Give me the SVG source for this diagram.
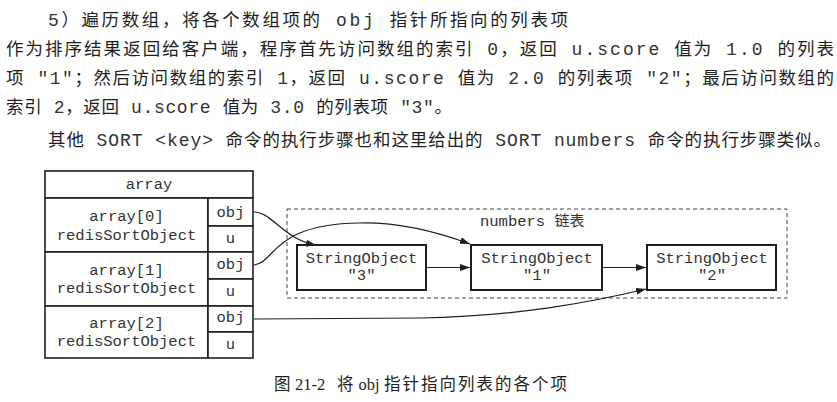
<svg xmlns="http://www.w3.org/2000/svg" width="837" height="402" viewBox="0 0 837 402">
<defs>
<style>
.body{font-family:"Noto Sans CJK SC",sans-serif;font-size:17.5px;fill:#1e1e1e}
.bm{font-family:"Liberation Mono","DejaVu Sans Mono",monospace;font-size:18px;fill:#333}
.cap{font-family:"Liberation Serif","Noto Sans CJK SC",serif;font-size:16.5px;fill:#1e1e1e}
.capc{font-family:"Noto Sans CJK SC",sans-serif;font-size:16.5px;fill:#1e1e1e}
.box{fill:#fff;stroke:#1e1e1e;stroke-width:1.6}
.sobox{fill:#fff;stroke:#1e1e1e;stroke-width:2}
.dash{fill:none;stroke:#444;stroke-width:1;stroke-dasharray:4 3}
.mono{font-family:"Liberation Mono","DejaVu Sans Mono",monospace;font-size:15.5px;fill:#333;text-anchor:middle}
.lbl{font-family:"Liberation Mono","DejaVu Sans Mono",monospace;font-size:15.5px;fill:#333}
.lblc{font-family:"Noto Sans CJK SC",sans-serif;font-size:15px}
.edge{fill:none;stroke:#1e1e1e;stroke-width:1.2}
</style>
<marker id="arr" markerUnits="userSpaceOnUse" markerWidth="11" markerHeight="8" refX="10" refY="3.5" orient="auto">
<path d="M0,0 L10,3.5 L0,7 z" fill="#1e1e1e"/>
</marker>
</defs>
<rect width="837" height="402" fill="#fff"/>

<g id="paragraph">
<text class="body" x="48" y="26" textLength="520" lengthAdjust="spacing"><tspan class="bm">5</tspan>）遍历数组，将各个数组项的<tspan class="bm"> obj </tspan>指针所指向的列表项</text>
<text class="body" x="6" y="55" textLength="828" lengthAdjust="spacing">作为排序结果返回给客户端，程序首先访问数组的索引<tspan class="bm"> 0</tspan>，返回<tspan class="bm"> u.score </tspan>值为<tspan class="bm"> 1.0 </tspan>的列表</text>
<text class="body" x="6" y="84" textLength="828" lengthAdjust="spacing">项<tspan class="bm"> "1"</tspan>；然后访问数组的索引<tspan class="bm"> 1</tspan>，返回<tspan class="bm"> u.score </tspan>值为<tspan class="bm"> 2.0 </tspan>的列表项<tspan class="bm"> "2"</tspan>；最后访问数组的</text>
<text class="body" x="6" y="113" textLength="446" lengthAdjust="spacing">索引<tspan class="bm"> 2</tspan>，返回<tspan class="bm"> u.score </tspan>值为<tspan class="bm"> 3.0 </tspan>的列表项<tspan class="bm"> "3"</tspan>。</text>
<text class="body" x="48" y="146" textLength="783" lengthAdjust="spacing">其他<tspan class="bm"> SORT &lt;key&gt; </tspan>命令的执行步骤也和这里给出的<tspan class="bm"> SORT numbers </tspan>命令的执行步骤类似。</text>
</g>

<g id="array-header">
<rect class="box" x="45" y="171" width="208" height="27"/>
<text class="mono" x="149" y="189">array</text>
</g>
<g id="array0">
<rect class="box" x="45" y="198" width="163" height="54"/>
<rect class="box" x="208" y="198" width="45" height="28"/>
<rect class="box" x="208" y="226" width="45" height="26"/>
<text class="mono" x="126.5" y="221">array[0]</text>
<text class="mono" x="126.5" y="240">redisSortObject</text>
<text class="mono" x="230.5" y="217">obj</text>
<text class="mono" x="230.5" y="243">u</text>
</g>
<g id="array1">
<rect class="box" x="45" y="252" width="163" height="54"/>
<rect class="box" x="208" y="252" width="45" height="27"/>
<rect class="box" x="208" y="279" width="45" height="27"/>
<text class="mono" x="126.5" y="275">array[1]</text>
<text class="mono" x="126.5" y="293">redisSortObject</text>
<text class="mono" x="230.5" y="269">obj</text>
<text class="mono" x="230.5" y="296">u</text>
</g>
<g id="array2">
<rect class="box" x="45" y="306" width="163" height="52"/>
<rect class="box" x="208" y="306" width="45" height="26"/>
<rect class="box" x="208" y="332" width="45" height="26"/>
<text class="mono" x="126.5" y="328">array[2]</text>
<text class="mono" x="126.5" y="346">redisSortObject</text>
<text class="mono" x="230.5" y="322">obj</text>
<text class="mono" x="230.5" y="349">u</text>
</g>

<g id="numbers-list">
<rect class="dash" x="287" y="209" width="500" height="89"/>
<text class="lbl" x="480" y="226">numbers <tspan class="lblc">链表</tspan></text>
</g>
<g id="so3">
<rect class="sobox" x="297" y="245" width="129" height="45"/>
<text class="mono" x="361.5" y="262.5">StringObject</text>
<text class="mono" x="361.5" y="280">"3"</text>
</g>
<g id="so1">
<rect class="sobox" x="471" y="245" width="131" height="45"/>
<text class="mono" x="537" y="262.5">StringObject</text>
<text class="mono" x="537" y="280">"1"</text>
</g>
<g id="so2">
<rect class="sobox" x="647" y="245" width="129" height="45"/>
<text class="mono" x="712" y="262.5">StringObject</text>
<text class="mono" x="712" y="280">"2"</text>
</g>

<g id="connectors">
<path class="edge" marker-end="url(#arr)" d="M426,267.5 L470,267.5"/>
<path class="edge" marker-end="url(#arr)" d="M602,267.5 L646,267.5"/>
<path class="edge" marker-end="url(#arr)" d="M254,212 C272,212 283,239 316,245"/>
<path class="edge" marker-end="url(#arr)" d="M254,265 C276,262 272,224 360,223 C402,222 440,233 470,244"/>
<path class="edge" marker-end="url(#arr)" d="M254,319 L420,318 C520,316 592,302 646,289"/>
</g>

<g id="caption">
<text class="capc" x="274" y="390">图</text>
<text class="cap" x="295" y="390">21-2</text>
<text class="capc" x="337" y="390">将</text>
<text class="cap" x="358.5" y="390">obj</text>
<text class="capc" x="384" y="390" textLength="183" lengthAdjust="spacing">指针指向列表的各个项</text>
</g>
</svg>
